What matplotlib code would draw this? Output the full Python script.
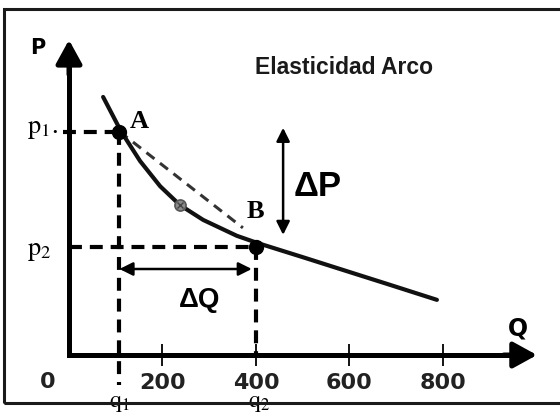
import matplotlib.pyplot as plt
from matplotlib.patches import Rectangle

# Curva de demanda
curve_q = [73, 111, 152, 195, 237, 287, 359, 402, 501, 586, 687, 787]
curve_p = [552, 479, 415, 361, 321, 289, 255, 240, 209, 182, 150, 118]

# Puntos A y B
point_names = ["A", "B"]
point_q = [108, 400]
point_p = [478, 232]

# punto medio sobre la curva y fin de la cuerda A-B
mid_q, mid_p = 237, 321
chord_q = [108, 372]
chord_p = [478, 272]

xticks = [200, 400, 600, 800]
title = "Elasticidad Arco"

q1, q2 = point_q
p1, p2 = point_p

plt.rcParams["mathtext.fontset"] = "stix"

fig = plt.figure(figsize=(5.6, 4.15), dpi=100)
ax = fig.add_axes([0, 0, 1, 1])
ax.set_xlim(-147.6, 1050.3)
ax.set_ylim(-128.3, 759.4)

# marco de la imagen
fig.patches.append(Rectangle((4 / 560, 12 / 415), 1.2, 394 / 415, transform=fig.transFigure,
                             fill=False, lw=2.2, ec="#1a1a1a"))

# Ejes
for s in ["top", "right"]:
    ax.spines[s].set_visible(False)
ax.spines["left"].set_position(("data", 0))
ax.spines["bottom"].set_position(("data", 0))
ax.spines["left"].set_bounds(0, 650)
ax.spines["bottom"].set_bounds(0, 970)
ax.spines["left"].set_linewidth(3.6)
ax.spines["bottom"].set_linewidth(3.6)
ax.spines["left"].set_capstyle("projecting")
ax.spines["bottom"].set_capstyle("projecting")

head = dict(arrowstyle="-|>,head_length=0.4,head_width=0.22", color="k", lw=3.6,
            mutation_scale=36, shrinkA=0, shrinkB=0)
ax.annotate("", xy=(0, 674), xytext=(0, 600), arrowprops=head)
ax.annotate("", xy=(1001, 0), xytext=(930, 0), arrowprops=head)

ax.set_yticks([])
ax.set_xticks(xticks)
ax.set_xticklabels([str(t) for t in xticks], fontsize=16, fontweight="bold", family="DejaVu Sans",
                   color="#222")
ax.tick_params(axis="x", direction="inout", length=16, width=1.3, pad=5)
ax.text(-45, -58, "0", fontsize=16, fontweight="bold", family="DejaVu Sans", color="#222",
        ha="center", va="center")
ax.text(-66, 657, "P", fontsize=15, fontweight="bold", family="DejaVu Sans", ha="center", va="center")
ax.text(960, 56, "Q", fontsize=17, fontweight="bold", family="DejaVu Sans", ha="center", va="center")

ax.text(588, 614, title, fontsize=16.5, fontweight="bold", color="#1a1a1a",
        family="Liberation Sans", ha="center", va="center")

# lineas punteadas
dash = (0, (3.1, 1.9))
ax.plot([-13, q1], [p1, p1], ls=dash, lw=3, color="k")
ax.plot([q1, q1], [p1, -64], ls=dash, lw=3, color="k")
ax.plot([0, q2], [p2, p2], ls=dash, lw=3, color="k")
ax.plot([q2, q2], [p2, 0], ls=dash, lw=3, color="k")
ax.plot(chord_q, chord_p, ls=(0, (3.3, 2.3)), lw=2.2, color="#333")

# curva
ax.plot(curve_q, curve_p, color="#111", lw=3, solid_capstyle="round", solid_joinstyle="round")

ax.plot(point_q, point_p, "o", ms=10, color="k")
ax.plot(mid_q, mid_p, "o", ms=8, mfc="#8a8a8a", mec="#555", mew=1.2)
ax.plot(mid_q, mid_p, "x", ms=5, color="#444", mew=1)

# flechas delta
dbl = dict(arrowstyle="<|-|>", color="k", lw=1.8, mutation_scale=20, shrinkA=0, shrinkB=0)
ax.annotate("", xy=(458, 486), xytext=(458, 257), arrowprops=dbl)
ax.annotate("", xy=(q1, 184), xytext=(391, 184), arrowprops=dbl)
ax.text(532, 361, "ΔP", fontsize=25, fontweight="bold", family="Liberation Sans", ha="center", va="center")
ax.text(280, 118, "ΔQ", fontsize=20, fontweight="bold", family="Liberation Sans", ha="center", va="center")

# etiquetas
serif = dict(family="Liberation Serif", fontsize=19)
ax.text(130, 500, point_names[0], fontweight="bold", ha="left", va="center", **serif)
ax.text(381, 308, point_names[1], fontweight="bold", ha="left", va="center", **serif)
ax.text(-90, 481, r"$\mathrm{p}_{1}$.", ha="left", va="center", **serif)
ax.text(-90, 220, r"$\mathrm{p}_{2}$", ha="left", va="center", **serif)
ax.text(q1, -127, r"$\mathrm{q}_{1}$", ha="center", va="bottom", family="Liberation Serif", fontsize=17)
ax.text(q2 + 6, -127, r"$\mathrm{q}_{2}$", ha="center", va="bottom", family="Liberation Serif", fontsize=17)

fig.savefig("out.png", dpi=100)
